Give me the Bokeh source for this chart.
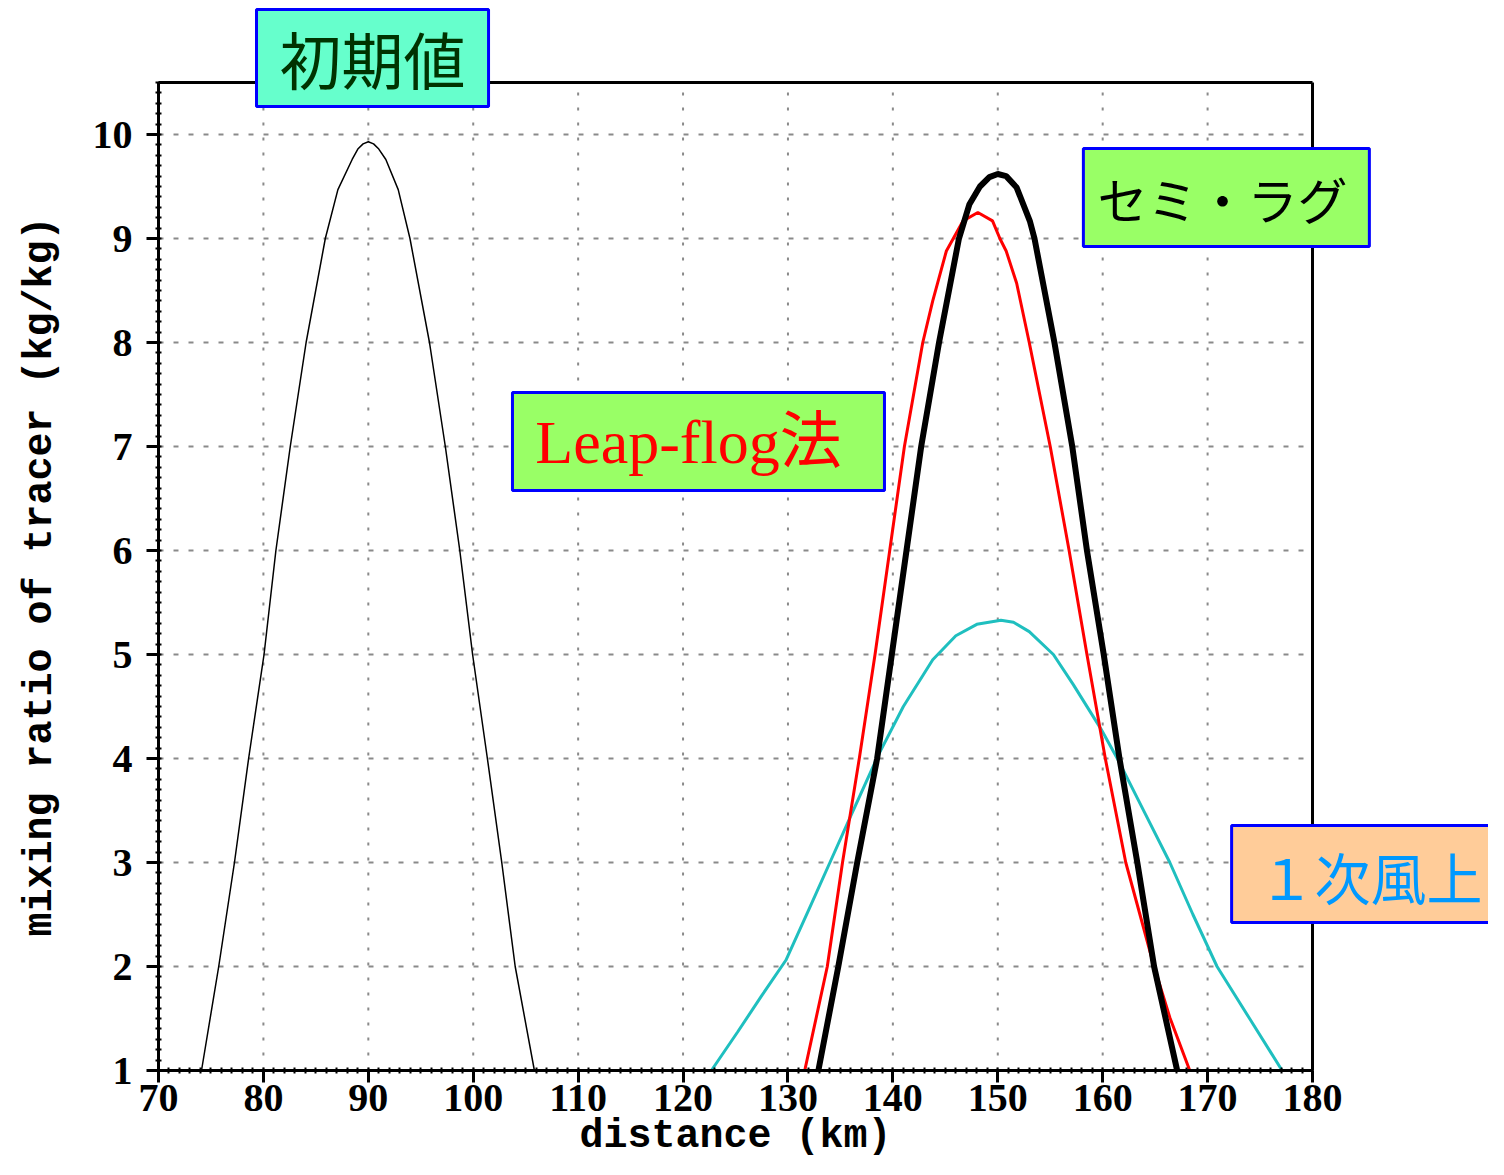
from bokeh.plotting import figure
from bokeh.models import Range1d, FixedTicker, BoxAnnotation, Label
from bokeh.embed import file_html
from bokeh.resources import INLINE

# ---- data ----
x_ticks = [70, 80, 90, 100, 110, 120, 130, 140, 150, 160, 170, 180]
y_ticks = [1, 2, 3, 4, 5, 6, 7, 8, 9, 10]
x_frame = (70, 180)
y_frame = (1, 10.5)

# initial value (thin black)
x_init = [74.1, 75.74, 77.24, 78.59, 80.06, 81.19, 82.56, 84.07, 85.9, 87.1, 88.46, 89.0, 89.5,
          90.0, 90.5, 91.0, 91.67, 92.85, 93.97, 95.83, 97.34, 98.72, 99.94, 101.35, 102.72, 104.0, 105.83]
y_init = [1, 2, 3, 4, 5, 6, 7, 8, 9, 9.47, 9.76, 9.86, 9.91,
          9.93, 9.91, 9.86, 9.76, 9.47, 9, 8, 7, 6, 5, 4, 3, 2, 1]

# semi-Lagrangian (thick black)
x_sl = [132.9, 134.8, 136.6, 138.5, 139.9, 141.3, 142.7, 144.4, 146.3, 147.3, 148.3, 149.2, 150.0,
        150.8, 151.8, 153.05, 153.5, 155.4, 157.1, 158.5, 160.1, 161.6, 163.3, 164.9, 167.1]
y_sl = [1, 2, 3, 4, 5, 6, 7, 8, 9, 9.33, 9.5, 9.59, 9.62,
        9.6, 9.49, 9.17, 9, 8, 7, 6, 5, 4, 3, 2, 1]

# Leap-frog (red)
x_lf = [131.6, 133.75, 135.2, 136.8, 138.3, 139.7, 141.1, 142.85, 143.8, 145.1, 146.7, 148.1,
        149.5, 150.2, 150.8, 151.8, 153.0, 155.0, 156.8, 158.5, 160.25, 162.2, 164.9, 166.4, 168.3]
y_lf = [1, 2, 3, 4, 5, 6, 7, 8, 8.4, 8.88, 9.17, 9.25,
        9.17, 9.0, 8.88, 8.57, 8.0, 7, 6, 5, 4, 3, 2, 1.51, 1]

# 1st-order upwind (cyan)
x_up = [122.7, 125.2, 127.5, 129.8, 132.0, 134.0, 136.0, 138.6, 141.0, 143.8, 146.0, 148.0, 150.3,
        151.5, 153.0, 155.3, 157.2, 159.8, 161.5, 164.0, 166.4, 168.6, 170.9, 174.0, 177.1]
y_up = [1, 1.37, 1.72, 2.06, 2.55, 3.0, 3.45, 4.03, 4.5, 4.95, 5.18, 5.29, 5.33,
        5.31, 5.22, 5.0, 4.71, 4.29, 3.98, 3.48, 3.0, 2.5, 2.0, 1.5, 1]

W, H = 1488, 1159
p = figure(width=W, height=H,
           x_range=Range1d(54.9392, 196.776), y_range=Range1d(0.14423, 11.2885),
           output_backend="svg", toolbar_location=None,
           min_border_left=0, min_border_right=0, min_border_top=0, min_border_bottom=0)

p.background_fill_color = "white"
p.border_fill_color = "white"
p.outline_line_color = None
p.grid.visible = False

# axes drawn at the edges of the data area
xa = p.xaxis[0]
ya = p.yaxis[0]
xa.fixed_location = y_frame[0]
ya.fixed_location = x_frame[0]
xa.bounds = x_frame
ya.bounds = y_frame
xa.ticker = FixedTicker(ticks=x_ticks, minor_ticks=list(range(70, 181)))
ya.ticker = FixedTicker(ticks=y_ticks, minor_ticks=[round(1 + 0.1 * i, 1) for i in range(96)])
for ax in (xa, ya):
    ax.axis_line_color = "black"
    ax.axis_line_width = 3
    ax.major_tick_line_color = "black"
    ax.major_tick_line_width = 3
    ax.major_tick_out = 12
    ax.major_tick_in = 0
    ax.minor_tick_line_color = "black"
    ax.minor_tick_line_width = 2
    ax.minor_tick_out = 3
    ax.minor_tick_in = 3
    ax.major_label_text_font = "Liberation Serif"
    ax.major_label_text_font_style = "bold"
    ax.major_label_text_font_size = "40px"
    ax.major_label_text_color = "black"
    ax.axis_label_text_font = "Liberation Mono"
    ax.axis_label_text_font_style = "bold"
    ax.axis_label_text_font_size = "40px"
    ax.axis_label_text_color = "black"

xa.major_label_standoff = 2
ya.major_label_standoff = 14
xa.axis_label = "distance (km)"
xa.axis_label_standoff = 0
ya.axis_label = "mixing ratio of tracer (kg/kg)"
ya.axis_label_standoff = 27

# grid (dotted/dashed gray) inside the frame
gx = x_ticks[1:-1]
gy = y_ticks[1:]
p.segment(x0=gx, y0=[y_frame[0]] * len(gx), x1=gx, y1=[y_frame[1]] * len(gx),
          line_color="#8a8a8a", line_width=2, line_dash="3 12")
p.segment(x0=[x_frame[0]] * len(gy), y0=gy, x1=[x_frame[1]] * len(gy), y1=gy,
          line_color="#8a8a8a", line_width=2, line_dash="5 10")

# curves
p.line(x_up, y_up, line_color="#1fbfbf", line_width=3)
p.line(x_lf, y_lf, line_color="#ff0000", line_width=3)
p.line(x_sl, y_sl, line_color="black", line_width=6)
p.line(x_init, y_init, line_color="black", line_width=1.5)

# top and right edges of the frame
p.segment(x0=[x_frame[0], x_frame[1]], y0=[y_frame[1], y_frame[0]],
          x1=[x_frame[1], x_frame[1]], y1=[y_frame[1], y_frame[1]],
          line_color="black", line_width=3)

# annotation boxes
def box(l, r, b, t, fill):
    p.add_layout(BoxAnnotation(left=l, right=r, bottom=b, top=t, fill_color=fill,
                               fill_alpha=1, line_color="#0000ff", line_width=3, line_alpha=1))

box(79.34, 101.46, 10.269, 11.202, "#66ffcc")
box(158.16, 185.42, 8.923, 9.865, "#99ff66")
box(103.74, 139.20, 6.577, 7.519, "#99ff66")
box(172.29, 205.0, 2.423, 3.356, "#ffcc99")

p.add_layout(Label(x=90.40, y=10.731, text="初期値", text_align="center", text_baseline="middle",
                   text_font="Noto Sans CJK JP", text_font_size="62px", text_color="#003300"))
p.add_layout(Label(x=171.42, y=9.394, text="セミ・ラグ", text_align="center", text_baseline="middle",
                   text_font="Noto Sans CJK JP", text_font_size="50px", text_color="black"))
p.add_layout(Label(x=120.52, y=7.048, text="Leap-flog法", text_align="center", text_baseline="middle",
                   text_font="'Liberation Serif', 'Noto Sans CJK JP'", text_font_size="62px",
                   text_color="#ff0000"))
p.add_layout(Label(x=185.53, y=2.875, text="１次風上", text_align="center", text_baseline="middle",
                   text_font="Noto Sans CJK JP", text_font_size="56px", text_color="#0099ff"))

open("out.html", "w").write(file_html(p, INLINE))
